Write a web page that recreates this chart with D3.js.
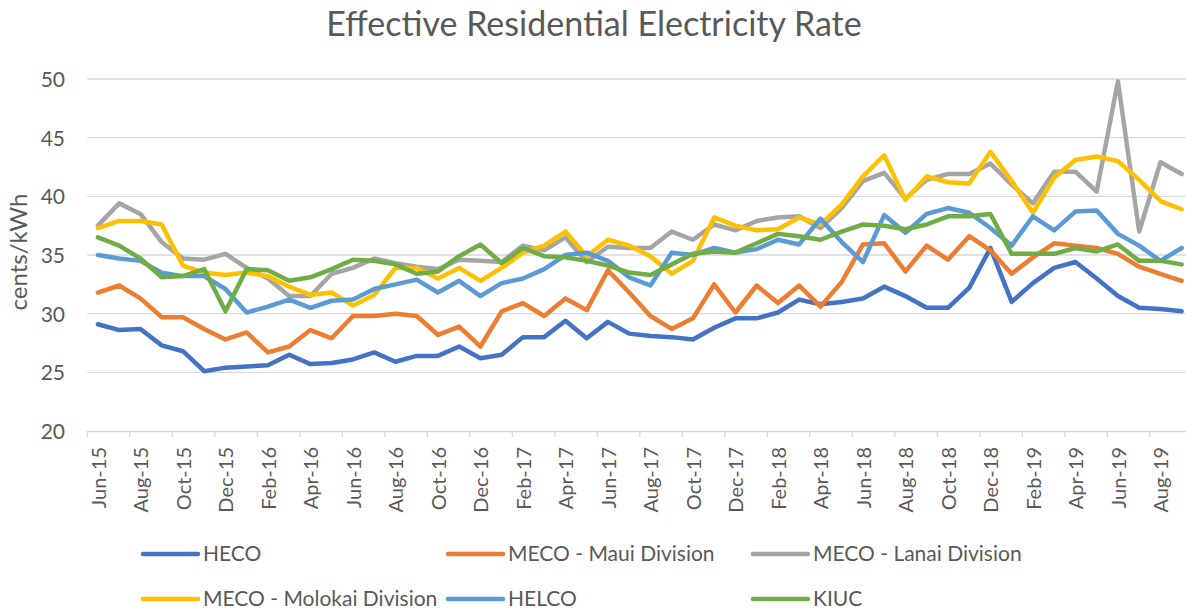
<!DOCTYPE html>
<html lang="en">
<head>
<meta charset="UTF-8">
<title>Effective Residential Electricity Rate</title>
<style>
    body { margin: 0; background: #fff; }
    svg text { font-family: 'Lato', 'Open Sans', sans-serif; fill: #595959; }
    .grid line { stroke: #d9d9d9; stroke-width: 1.3px; }
    .series { fill: none; stroke-width: 4.5px; stroke-linejoin: round; stroke-linecap: round; }
</style>
</head>
<body>
<svg width="1186" height="609"></svg>
<script src="https://d3js.org/d3.v7.min.js"></script>
<script>
    // months Jun-15 .. Sep-19
    const monthNames = ["Jan","Feb","Mar","Apr","May","Jun","Jul","Aug","Sep","Oct","Nov","Dec"];
    const months = [];
    for (let i = 0; i < 52; i++) {
        const m = (5 + i) % 12, y = 15 + Math.floor((5 + i) / 12);
        months.push(monthNames[m] + "-" + y);
    }

    const heco = [29.1, 28.6, 28.7, 27.3, 26.8, 25.1, 25.4, 25.5, 25.6, 26.5, 25.7, 25.8, 26.1, 26.7,
        25.9, 26.4, 26.4, 27.2, 26.2, 26.5, 28.0, 28.0, 29.4, 27.9, 29.3, 28.3, 28.1, 28.0,
        27.8, 28.8, 29.6, 29.6, 30.1, 31.2, 30.8, 31.0, 31.3, 32.3, 31.5, 30.5, 30.5, 32.2,
        35.6, 31.0, 32.6, 33.9, 34.4, 33.0, 31.5, 30.5, 30.4, 30.2];
    const mecoMaui = [31.8, 32.4, 31.3, 29.7, 29.7, 28.7, 27.8, 28.4, 26.7, 27.2, 28.6, 27.9, 29.8, 29.8,
        30.0, 29.8, 28.2, 28.9, 27.2, 30.2, 30.9, 29.8, 31.3, 30.3, 33.7, 31.8, 29.8, 28.7,
        29.6, 32.5, 30.1, 32.4, 30.9, 32.4, 30.6, 32.7, 35.9, 36.0, 33.6, 35.8, 34.6, 36.6,
        35.4, 33.4, 34.8, 36.0, 35.8, 35.6, 35.1, 34.0, 33.4, 32.8];
    const mecoLanai = [37.5, 39.4, 38.5, 36.1, 34.7, 34.6, 35.1, 33.9, 33.0, 31.5, 31.5, 33.4, 33.9, 34.7,
        34.3, 34.0, 33.8, 34.6, 34.5, 34.4, 35.8, 35.4, 36.5, 34.4, 35.7, 35.6, 35.6, 37.0,
        36.3, 37.6, 37.1, 37.9, 38.2, 38.3, 37.3, 39.0, 41.3, 42.0, 39.8, 41.4, 41.9, 41.9,
        42.8, 41.0, 39.4, 42.1, 42.1, 40.4, 49.8, 37.0, 42.9, 41.9];
    const mecoMolokai = [37.3, 37.9, 37.9, 37.6, 34.1, 33.5, 33.3, 33.5, 33.2, 32.3, 31.6, 31.8, 30.7, 31.6,
        33.9, 33.9, 33.0, 33.9, 32.8, 33.9, 35.2, 35.8, 37.0, 34.9, 36.3, 35.8, 34.9, 33.4,
        34.5, 38.2, 37.5, 37.1, 37.2, 38.2, 37.6, 39.3, 41.7, 43.5, 39.7, 41.7, 41.2, 41.1,
        43.8, 41.3, 38.6, 41.6, 43.1, 43.4, 43.0, 41.4, 39.6, 38.9];
    const helco = [35.0, 34.7, 34.5, 33.5, 33.2, 33.2, 32.1, 30.1, 30.6, 31.2, 30.5, 31.1, 31.2, 32.1,
        32.5, 32.9, 31.8, 32.8, 31.5, 32.6, 33.0, 33.8, 35.0, 35.2, 34.5, 33.1, 32.4, 35.2,
        35.0, 35.6, 35.2, 35.5, 36.3, 35.9, 38.1, 36.1, 34.4, 38.4, 36.9, 38.5, 39.0, 38.6,
        37.3, 35.8, 38.3, 37.1, 38.7, 38.8, 36.8, 35.8, 34.5, 35.6];
    const kiuc = [36.5, 35.8, 34.7, 33.1, 33.2, 33.8, 30.2, 33.8, 33.7, 32.8, 33.1, 33.8, 34.6, 34.5,
        34.2, 33.4, 33.6, 34.9, 35.9, 34.3, 35.6, 34.9, 34.8, 34.5, 34.1, 33.5, 33.3, 34.2,
        35.1, 35.3, 35.2, 36.0, 36.8, 36.6, 36.3, 37.0, 37.6, 37.5, 37.2, 37.6, 38.3, 38.3,
        38.5, 35.1, 35.1, 35.1, 35.6, 35.3, 35.9, 34.5, 34.5, 34.2];

    const seriesNames = ["HECO", "MECO - Maui Division", "MECO - Lanai Division",
        "MECO - Molokai Division", "HELCO", "KIUC"];
    const seriesColors = ["#4472C4", "#ED7D31", "#A5A5A5", "#FFC000", "#5B9BD5", "#70AD47"];
    const yTicks = [20, 25, 30, 35, 40, 45, 50];

    const series = [heco, mecoMaui, mecoLanai, mecoMolokai, helco, kiuc].map((values, i) => ({
        name: seriesNames[i], color: seriesColors[i], values: values
    }));

    const svg = d3.select("svg");

    const x = d3.scaleBand().domain(months).range([87.3, 1192.3]);
    const y = d3.scaleLinear().domain([20, 50]).range([431, 79]);

    // title
    svg.append("text")
        .attr("x", 594).attr("y", 36)
        .attr("text-anchor", "middle")
        .style("font-size", "34px")
        .text("Effective Residential Electricity Rate");

    // gridlines
    svg.append("g").attr("class", "grid")
        .selectAll("line")
        .data(yTicks.slice(1))
        .enter().append("line")
        .attr("x1", 87.3).attr("x2", 1186)
        .attr("y1", d => y(d)).attr("y2", d => y(d));

    // y axis labels
    const yAxis = svg.append("g")
        .attr("transform", "translate(65,0)")
        .call(d3.axisLeft(y).tickValues(yTicks).tickSize(0).tickPadding(0));
    yAxis.select(".domain").remove();
    yAxis.selectAll("text")
        .attr("dy", "0.35em")
        .style("font-size", "21px")
        .style("font-family", "Lato, sans-serif")
        .style("fill", "#595959");

    svg.append("text")
        .attr("transform", "translate(27,252) rotate(-90)")
        .attr("text-anchor", "middle")
        .style("font-size", "24px")
        .text("cents/kWh");

    // x axis
    const xAxis = svg.append("g")
        .attr("transform", "translate(0,431)")
        .call(d3.axisBottom(x).tickValues([]).tickSize(0));
    xAxis.select(".domain").attr("stroke", "#d9d9d9").attr("stroke-width", 1.3);

    // tick marks every 2 months at band edges
    svg.append("g").selectAll("line")
        .data(months.filter((d, i) => i % 2 === 0))
        .enter().append("line")
        .attr("x1", d => x(d)).attr("x2", d => x(d))
        .attr("y1", 431).attr("y2", 437)
        .attr("stroke", "#d9d9d9").attr("stroke-width", 1.3);

    svg.append("g").selectAll("text")
        .data(months.filter((d, i) => i % 2 === 0))
        .enter().append("text")
        .attr("transform", d => `translate(${x(d) + x.bandwidth() / 2 + 8},447) rotate(-90)`)
        .attr("text-anchor", "end")
        .style("font-size", "20px")
        .text(d => d);

    // lines
    const line = d3.line()
        .x((d, i) => x(months[i]) + x.bandwidth() / 2)
        .y(d => y(d));

    svg.append("g").selectAll("path")
        .data(series)
        .enter().append("path")
        .attr("class", "series")
        .attr("stroke", d => d.color)
        .attr("d", d => line(d.values));

    // legend
    const legendX = [143, 448, 753];
    const legendY = [554, 599];
    const legend = svg.append("g").selectAll("g")
        .data(series)
        .enter().append("g")
        .attr("transform", (d, i) => `translate(${legendX[i % 3]},${legendY[Math.floor(i / 3)]})`);

    legend.append("line")
        .attr("x1", 0).attr("x2", 55)
        .attr("stroke", d => d.color)
        .attr("stroke-width", 4.5)
        .attr("stroke-linecap", "round");

    legend.append("text")
        .attr("x", 60).attr("dy", "0.35em")
        .style("font-size", "21px")
        .text(d => d.name);
</script>
</body>
</html>
